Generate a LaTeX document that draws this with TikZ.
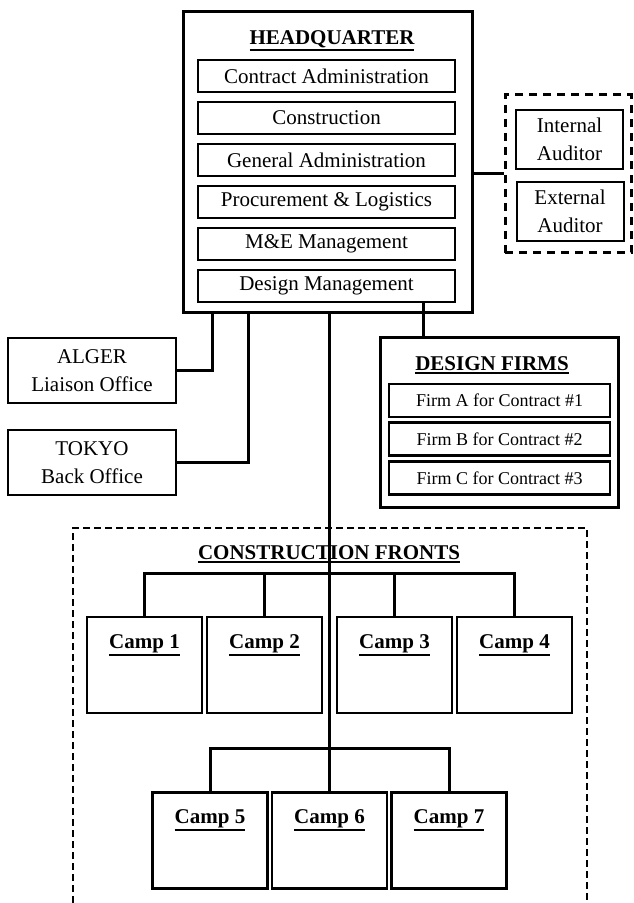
\documentclass[tikz,border=0pt]{standalone}
\usepackage{fontspec}
\setmainfont{Liberation Serif}
\usetikzlibrary{positioning}

\newcommand\headul[1]{\vtop{\hbox{#1}\kern.7pt\hrule height 1pt}}

\tikzset{
	unit/.style={draw, line width=1pt, minimum width=128.5pt, minimum height=16pt, inner sep=0pt},
	office/.style={draw, line width=1pt, minimum width=84pt, minimum height=32.5pt, align=center, inner sep=0pt},
	auditor/.style={draw, line width=1pt, minimum width=53.5pt, minimum height=29.5pt, align=center, inner sep=0pt},
	firm/.style={draw, line width=1.2pt, minimum width=110.5pt, minimum height=16.5pt, inner sep=0pt, font=\fontsize{9}{11}\selectfont},
	camp/.style={draw, line width=1.3pt, minimum width=57.5pt, minimum height=48pt, inner sep=0pt},
	campname/.style={anchor=north, inner sep=0pt, yshift=-9pt, font=\fontsize{10.5}{14}\selectfont\bfseries},
	head/.style={font=\fontsize{10.5}{14}\selectfont\bfseries, inner sep=0pt},
	link/.style={line width=1.5pt},
}

\begin{document}
\begin{tikzpicture}[x=.5pt, y=-.5pt, font=\fontsize{10.5}{14}\selectfont]
	\useasboundingbox (0,0) rectangle (633,903);
	
	% headquarter
	\node[draw, line width=1.5pt, minimum width=144.5pt, minimum height=150pt] (hq) at (327.5,162) {};
	\node[head] (hqt) at (332,41) {\headul{HEADQUARTER}};
	\node[unit] (u1) at (326.5,76) {Contract Administration};
	\node[unit, below=4pt of u1] (u2) {Construction};
	\node[unit, below=4pt of u2] (u3) {General Administration};
	\node[unit, below=4pt of u3] (u4) {Procurement \& Logistics};
	\node[unit, below=4pt of u4] (u5) {M\&E Management};
	\node[unit, below=4pt of u5] (u6) {Design Management};
	
	% auditors
	\node[draw, line width=1.5pt, dash pattern=on 4pt off 3pt, minimum width=63pt, minimum height=79pt] (aud) at (568,174) {};
	\node[auditor] (ia) at (569.5,139.5) {Internal\\Auditor};
	\node[auditor] (ea) at (570,211.5) {External\\Auditor};
	\draw[link] (aud.west) -- (aud.west -| hq.east);
	
	% offices
	\node[office] (alger) at (92,370.5) {ALGER\\Liaison Office};
	\node[office] (tokyo) at (92,462.5) {TOKYO\\Back Office};
	\path (hq.south) ++(-115.5,0) coordinate (hqa) ++(36,0) coordinate (hqb);
	\draw[link] (alger.east) -| (hqa);
	\draw[link] (tokyo.east) -| (hqb);
	
	% design firms
	\node[draw, line width=1.5pt, minimum width=119pt, minimum height=85pt] (df) at (499,422) {};
	\node[head] (dft) at (492,365) {\headul{DESIGN FIRMS}};
	\node[firm] (fa) at (499.5,400.5) {Firm A for Contract \#1};
	\node[firm] (fb) at (499.5,439) {Firm B for Contract \#2};
	\node[firm] (fc) at (499.5,478) {Firm C for Contract \#3};
	\draw[link] ([xshift=48.25pt]u6.south) -- ([xshift=48.25pt]u6.south |- df.north);
	
	% construction fronts
	\draw[line width=.75pt, dash pattern=on 3.5pt off 2pt] (73,903) -- (73,528) -- (587,528) -- (587,903);
	\node[head] (cft) at (329,554) {\headul{CONSTRUCTION FRONTS}};
	\foreach \n/\x in {1/144.5, 2/264.5, 3/394.5, 4/514.5}
		\node[camp, label={[campname]north:\headul{Camp \n}}] (c\n) at (\x,665) {};
	\foreach \n/\x in {5/210, 6/329.5, 7/449}
		\node[camp, label={[campname]north:\headul{Camp \n}}] (c\n) at (\x,840.5) {};
	
	\coordinate (busa) at (329,573);
	\coordinate (busb) at (329,748);
	\draw[link] (c1.north) |- (busa) -| (c4.north);
	\draw[link] (c2.north) -- (c2.north |- busa);
	\draw[link] (c3.north) -- (c3.north |- busa);
	\draw[link] (c5.north) |- (busb) -| (c7.north);
	\draw[link] (hq.south -| c6.north) -- (c6.north);
\end{tikzpicture}
\end{document}
